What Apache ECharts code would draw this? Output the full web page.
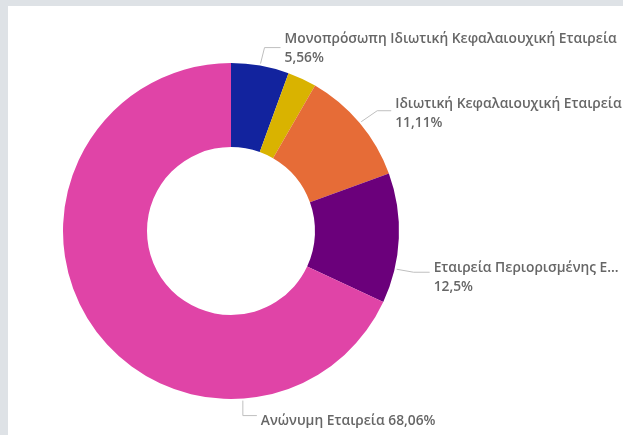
<!DOCTYPE html>
<html>
<head>
<meta charset="utf-8">
<script src="https://cdn.jsdelivr.net/npm/echarts@6/dist/echarts.min.js"></script>
<style>
  html, body { margin: 0; padding: 0; width: 623px; height: 435px; background: #dee2e6; overflow: hidden; }
  #panel { position: absolute; left: 8px; top: 6px; right: 0; bottom: 0; background: #ffffff; }
  #chart { position: absolute; left: 0; top: 0; width: 623px; height: 435px; }
</style>
</head>
<body>
<div id="panel"></div>
<div id="chart"></div>
<script>
// Data
const categories = [
  'Μονοπρόσωπη Ιδιωτική Κεφαλαιουχική Εταιρεία',
  'Λοιπές',
  'Ιδιωτική Κεφαλαιουχική Εταιρεία',
  'Εταιρεία Περιορισμένης Ευθύνης',
  'Ανώνυμη Εταιρεία'
];
const percentages = [5.56, 2.78, 11.11, 12.5, 68.06];
const colors = ['#12239E', '#D9B300', '#E66C37', '#6B007B', '#E044A7'];

// Layout (label placement, not data)
const CX = 231, CY = 231, R_IN = 84, R_OUT = 168;
const FONT_SIZE = 13.8, FONT_WEIGHT = 600, FONT_FAMILY = 'Open Sans';
const labelLayouts = [
  { angle: 10,  dx1: 4,  dy1: -16, len2: 16, ty: 1, singleLine: false },
  null,
  { angle: 50,  dx1: 16, dy1: -11, len2: 14, ty: 3, singleLine: false },
  { angle: 103, dx1: 17, dy1: 3,   len2: 16, ty: 5, singleLine: false, maxWidth: 188 },
  { angle: 176, dx1: 0,  dy1: 15,  len2: 14, ty: 5, singleLine: true }
];

function fmt(v) { return String(v).replace('.', ','); }
const fontStr = FONT_WEIGHT + ' ' + FONT_SIZE + 'px "' + FONT_FAMILY + '"';

const measureCtx = document.createElement('canvas').getContext('2d');
function truncate(text, maxWidth) {
  measureCtx.font = fontStr;
  if (measureCtx.measureText(text).width <= maxWidth) return text;
  const ell = '...';
  let s = text;
  while (s.length > 0 && measureCtx.measureText(s + ell).width > maxWidth) {
    s = s.slice(0, -1);
  }
  return s.replace(/\s+$/, '') + ell;
}

function build() {
  const chart = echarts.init(document.getElementById('chart'), null, { renderer: 'canvas' });

  const seriesData = categories.map(function (name, i) {
    const L = labelLayouts[i];
    const item = { name: name, value: percentages[i], itemStyle: { color: colors[i] } };
    if (!L) {
      item.label = { show: false };
      item.labelLine = { show: false };
    } else {
      const shown = L.maxWidth ? truncate(name, L.maxWidth) : name;
      item.label = {
        show: true,
        formatter: L.singleLine ? shown + ' ' + fmt(percentages[i]) + '%' : shown + '\n' + fmt(percentages[i]) + '%'
      };
    }
    return item;
  });

  chart.setOption({
    animation: false,
    backgroundColor: 'transparent',
    series: [{
      type: 'pie',
      left: 0,
      top: 0,
      width: 2000,
      height: 435,
      center: [CX, CY],
      radius: [R_IN, R_OUT],
      startAngle: 90,
      clockwise: true,
      avoidLabelOverlap: false,
      itemStyle: { borderWidth: 0 },
      label: {
        show: true,
        position: 'outside',
        fontFamily: FONT_FAMILY,
        fontSize: FONT_SIZE,
        fontWeight: FONT_WEIGHT,
        lineHeight: 19,
        color: '#666666',
        overflow: 'none'
      },
      labelLine: {
        show: true,
        length: 10,
        length2: 10,
        lineStyle: { color: '#BFBFBF', width: 1 }
      },
      labelLayout: function (p) {
        const L = labelLayouts[p.dataIndex];
        if (!L) return {};
        const a = L.angle * Math.PI / 180;
        const x0 = CX + (R_OUT + 2) * Math.sin(a);
        const y0 = CY - (R_OUT + 2) * Math.cos(a);
        const x1 = x0 + L.dx1, y1 = y0 + L.dy1;
        const x2 = x1 + L.len2;
        return {
          x: x2 + 4,
          y: y1 + L.ty,
          align: 'left',
          verticalAlign: 'middle',
          labelLinePoints: [[x0, y0], [x1, y1], [x2, y1]]
        };
      },
      data: seriesData
    }]
  });
}

if (document.fonts && document.fonts.load) {
  document.fonts.load(fontStr).then(build, build);
} else {
  build();
}
</script>
</body>
</html>
